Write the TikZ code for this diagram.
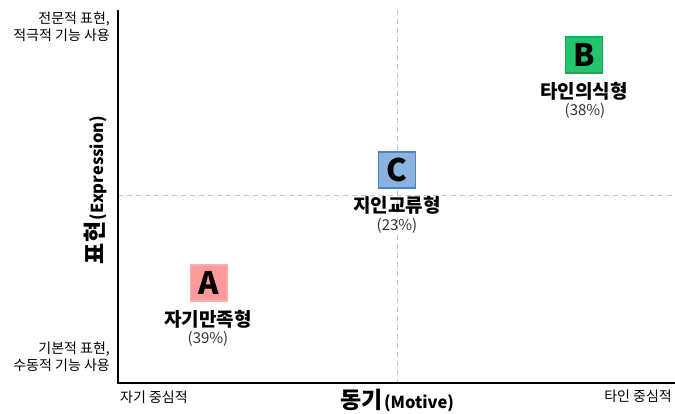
\documentclass[tikz,border=0pt]{standalone}
\usepackage{fontspec}
\setmainfont{Noto Sans CJK KR}
\begin{document}
\begin{tikzpicture}[x=1pt,y=-1pt,
  axis/.style={line width=1.8pt,black},
  guide/.style={gray!45,line width=0.8pt,dash pattern=on 5pt off 4pt},
  corner/.style={font=\fontsize{14}{17.5}\selectfont,inner sep=0pt,align=right},
  letterbox/.style={minimum width=37pt,minimum height=36pt,inner sep=0pt,line width=1.5pt,font=\fontsize{31}{32}\bfseries\selectfont},
  tname/.style={font=\fontsize{19}{21}\bfseries\selectfont,inner sep=0pt},
  tpct/.style={font=\fontsize{15}{17}\selectfont,inner sep=0pt,text=black!80}]
\useasboundingbox (0,0) rectangle (675,414);
\definecolor{aFill}{HTML}{FF9A9A}
\definecolor{aDraw}{HTML}{F8AFAF}
\definecolor{cFill}{HTML}{8AB3DE}
\definecolor{cDraw}{HTML}{4A86C8}
\definecolor{bFill}{HTML}{23C46E}
\definecolor{bDraw}{HTML}{17A85A}
\coordinate (o) at (118,383);
\coordinate (ytop) at (118,10);
\coordinate (xend) at (675,383);
\coordinate (vt) at (397,10);
\coordinate (vb) at (397,383);
\coordinate (hl) at (118,195);
\coordinate (hr) at (675,195);
\draw[guide] (vt) -- (vb);
\draw[guide] (hl) -- (hr);
\draw[axis] (ytop) -- (o) -- (xend);
% corner texts
\node[corner,anchor=east] (tl) at (110,27) {전문적 표현,\\적극적 기능 사용};
\node[corner,anchor=east] (bl) at (110,357) {기본적 표현,\\수동적 기능 사용};
\node[corner,anchor=west] (xl) at (120,397) {자기 중심적};
\node[corner,anchor=east] (xr) at (672,396) {타인 중심적};
% axis titles
\node[inner sep=0pt] (xt) at (397,400) {{\fontsize{23}{25}\bfseries\selectfont 동기}\,{\fontsize{16.5}{18}\bfseries\selectfont (Motive)}};
\node[inner sep=0pt,rotate=90] (yt) at (95,190) {{\fontsize{23}{25}\bfseries\selectfont 표현}\,{\fontsize{16.5}{18}\bfseries\selectfont (Expression)}};
% types
\node[letterbox,fill=aFill,draw=aDraw] (A) at (209,283) {A};
\node[tname] (An) at (208,319) {자기만족형};
\node[tpct] (Ap) at (208,339) {(39\%)};
\node[letterbox,fill=cFill,draw=cDraw] (C) at (397,170) {C};
\node[tname] (Cn) at (397,205) {지인교류형};
\node[tpct] (Cp) at (397,226) {(23\%)};
\node[letterbox,fill=bFill,draw=bDraw] (B) at (584,55) {B};
\node[tname] (Bn) at (584,91) {타인의식형};
\node[tpct] (Bp) at (585,111) {(38\%)};
\end{tikzpicture}
\end{document}
